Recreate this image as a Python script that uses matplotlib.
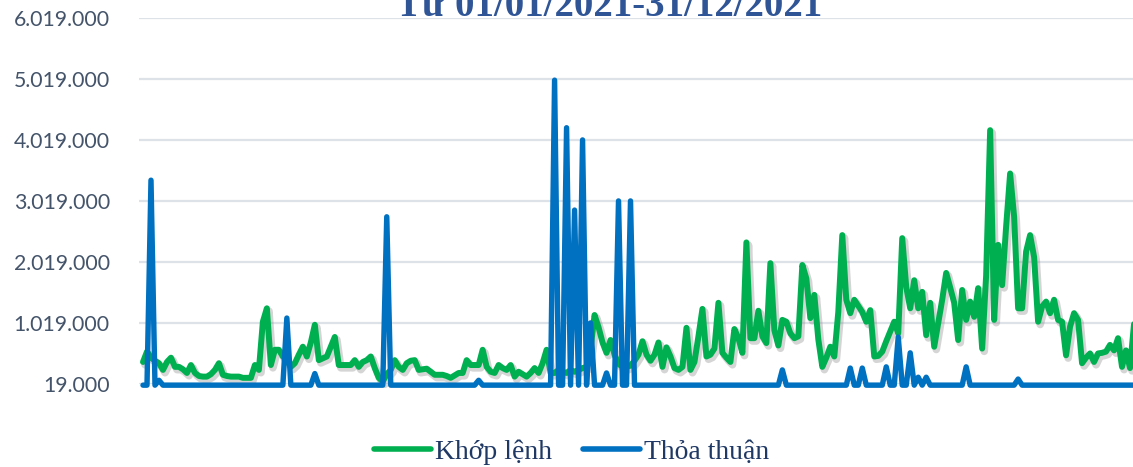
import matplotlib
matplotlib.use("Agg")
import matplotlib.pyplot as plt
import matplotlib.patheffects as pe
import numpy as np

# daily volume, in millions of shares
khop_lenh_m = [
    0.38, 0.55, 0.45, 0.40, 0.36, 0.25, 0.38, 0.45, 0.30, 0.30,
    0.26, 0.20, 0.33, 0.20, 0.15, 0.14, 0.14, 0.18, 0.25, 0.36,
    0.17, 0.15, 0.14, 0.14, 0.14, 0.12, 0.12, 0.12, 0.33, 0.25,
    1.04, 1.26, 0.33, 0.58, 0.58, 0.47, 0.41, 0.30, 0.36, 0.50,
    0.63, 0.47, 0.70, 0.99, 0.41, 0.44, 0.47, 0.63, 0.79, 0.33,
    0.33, 0.33, 0.33, 0.41, 0.30, 0.38, 0.41, 0.47, 0.28, 0.12,
    0.06, 0.18, 0.25, 0.41, 0.30, 0.25, 0.36, 0.40, 0.41, 0.25,
    0.26, 0.27, 0.22, 0.17, 0.17, 0.17, 0.15, 0.12, 0.16, 0.20,
    0.20, 0.41, 0.33, 0.33, 0.33, 0.58, 0.30, 0.22, 0.20, 0.33,
    0.28, 0.25, 0.33, 0.14, 0.22, 0.18, 0.14, 0.20, 0.28, 0.20,
    0.36, 0.58, 0.20, 0.20, 0.25, 0.22, 0.20, 0.25, 0.22, 0.25,
    0.28, 0.30, 0.60, 1.15, 0.95, 0.70, 0.53, 0.74, 0.50, 0.35,
    0.30, 0.30, 0.32, 0.40, 0.50, 0.72, 0.50, 0.40, 0.50, 0.70,
    0.30, 0.62, 0.47, 0.28, 0.25, 0.30, 0.94, 0.25, 0.38, 0.80,
    1.25, 0.47, 0.50, 0.60, 1.35, 0.53, 0.45, 0.38, 0.92, 0.77,
    0.53, 2.34, 0.77, 0.77, 1.22, 0.80, 0.69, 2.00, 0.90, 0.65,
    1.07, 1.04, 0.85, 0.77, 0.80, 1.97, 1.75, 1.10, 1.48, 0.75,
    0.30, 0.45, 0.63, 0.47, 1.20, 2.46, 1.40, 1.18, 1.40, 1.30,
    1.20, 1.04, 1.23, 0.47, 0.48, 0.55, 0.72, 0.88, 1.04, 0.85,
    2.41, 1.61, 1.26, 1.72, 1.26, 1.53, 0.82, 1.35, 0.63, 1.02,
    1.40, 1.84, 1.60, 1.35, 0.74, 1.56, 1.07, 1.37, 1.12, 1.59,
    0.60, 1.80, 4.18, 1.07, 2.30, 1.64, 2.60, 3.47, 2.76, 1.26,
    1.26, 2.19, 2.46, 2.10, 1.04, 1.29, 1.37, 1.18, 1.40, 1.07,
    1.04, 0.49, 0.96, 1.18, 1.07, 0.36, 0.45, 0.52, 0.38, 0.52,
    0.53, 0.55, 0.66, 0.57, 0.77, 0.30, 0.57, 0.28, 1.00,
]

# negotiated deals: zero on most days, a few spikes
thoa_thuan_m = [0.0] * len(khop_lenh_m)
spikes = {
    2: 3.36, 4: 0.08, 36: 1.10, 43: 0.19, 61: 2.76, 84: 0.08,
    103: 5.00, 106: 4.22, 108: 2.87, 110: 4.02, 112: 1.02, 116: 0.20,
    119: 3.02, 122: 3.02, 160: 0.25, 177: 0.28, 180: 0.28, 186: 0.30,
    189: 0.79, 192: 0.53, 194: 0.13, 196: 0.13, 206: 0.30, 219: 0.10,
}
for day, val in spikes.items():
    thoa_thuan_m[day] = val

khop_lenh = np.array(khop_lenh_m) * 1e6
thoa_thuan = np.array(thoa_thuan_m) * 1e6
days = np.arange(len(khop_lenh))

y_ticks = [19000 + 1000000 * i for i in range(7)]
title = "Từ 01/01/2021-31/12/2021"
labels = ["Khớp lệnh", "Thỏa thuận"]

green = "#00B050"
blue = "#0070C0"

fig = plt.figure(figsize=(11.33, 4.67), dpi=100)
ax = fig.add_axes([139 / 1133, 1 - 384 / 467, 1 - 139 / 1133, (384 - 18) / 467])

ax.plot(days, khop_lenh, color=green, lw=4.3, solid_joinstyle="round",
        solid_capstyle="round", clip_on=False, label=labels[0], zorder=3,
        path_effects=[pe.SimpleLineShadow(offset=(1.5, -2), shadow_color="#888888",
                                          alpha=0.35, linewidth=5.5),
                      pe.Normal()])
ax.plot(days, thoa_thuan, color=blue, lw=3.9, solid_joinstyle="round",
        solid_capstyle="round", clip_on=False, label=labels[1], zorder=4)

ax.set_xlim(-1.0, 247.75)
ax.set_ylim(19000, 6019000)
ax.set_yticks(y_ticks)
ax.set_yticklabels([f"{v:,}".replace(",", ".") for v in y_ticks],
                   fontsize=15.3, color="#44546A", family="Lato")
ax.tick_params(axis="y", length=0, pad=21)
ax.set_xticks([])
ax.grid(axis="y", color="#DDE1E8", lw=1.6)
ax.set_axisbelow(True)
for s in ax.spines.values():
    s.set_visible(False)

# title sits partly above the top edge, as in the reference crop
fig.text(609.5 / 1133, 1 - 16 / 467, title, ha="center", va="baseline",
         fontsize=28, fontweight="bold", color="#2F5597",
         family="Liberation Serif")

leg = fig.legend(loc="center", bbox_to_anchor=(571.5 / 1133, 1 - 452 / 467),
                 ncol=2, frameon=False, borderpad=0, handlelength=2.05,
                 handletextpad=0.15, columnspacing=1.1,
                 prop={"family": "Liberation Serif", "size": 20})
for t in leg.get_texts():
    t.set_color("#1F3864")
for h in leg.legend_handles:
    h.set_linewidth(4)
    h.set_path_effects([])

fig.savefig("out.png", dpi=100)
